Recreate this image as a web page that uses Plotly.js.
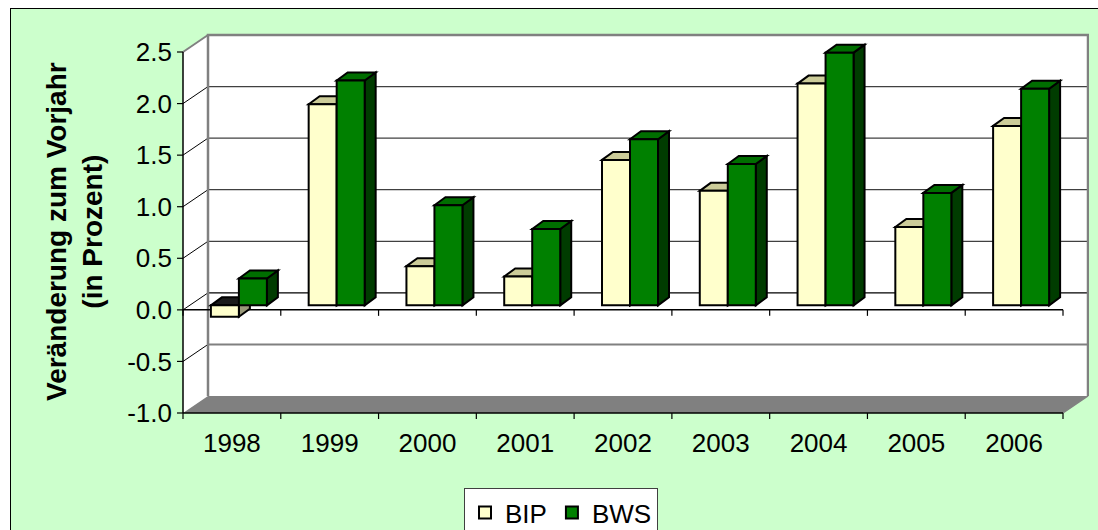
<!DOCTYPE html>
<html>
<head>
<meta charset="utf-8">
<script src="https://cdn.plot.ly/plotly-3.0.1.min.js"></script>
<style>
  html, body { margin: 0; padding: 0; width: 1098px; height: 530px; overflow: hidden; background: #ffffff; }
  #wrap { position: absolute; left: 10px; top: 8px; border-left: 1px solid #000; border-top: 1px solid #000; }
  #chart { width: 1087px; height: 521px; }
</style>
</head>
<body>
<div id="wrap"><div id="chart"></div></div>
<script>
// ---- data ----
const years = ['1998', '1999', '2000', '2001', '2002', '2003', '2004', '2005', '2006'];
const bip = [-0.11, 1.95, 0.38, 0.28, 1.41, 1.11, 2.15, 0.76, 1.74];
const bws = [0.26, 2.18, 0.97, 0.74, 1.61, 1.37, 2.45, 1.09, 2.10];
const yTickVals = [-1, -0.5, 0, 0.5, 1, 1.5, 2, 2.5];
const yTickText = ['-1.0', '-0.5', '0.0', '0.5', '1.0', '1.5', '2.0', '2.5'];
const yTitle = 'Veränderung zum Vorjahr<br>(in Prozent)';

// ---- geometry (page pixels) ----
const W = 1087, H = 521, OX = 11, OY = 9;
const PL = 176, PR = 1089, PT = 33, PB = 420;
const FL = 183, FR = 1063, FT = 52, FB = 413;
const n = years.length;
const yMin = yTickVals[0], yMax = yTickVals[yTickVals.length - 1];
const ux = (FR - FL) / n, uy = (FB - FT) / (yMax - yMin);
const xL = -0.5, xR = n - 0.5;
const xmin = xL - (FL - PL) / ux, xmax = xR + (PR - FR) / ux;
const ymin = yMin - (PB - FB) / uy, ymax = yMax + (FT - PT) / uy;
const BX = 25 / ux, BY = 17 / uy;           // back wall depth
const barOffX = 7 / ux, barOffY = 4.5 / uy; // bar front plane
const barW = 28 / ux;
const bdx = 11 / ux, bdy = 8 / uy;          // bar depth

function path(pts) {
  return 'M' + pts.map(p => p[0] + ',' + p[1]).join('L') + 'Z';
}
function line(x0, y0, x1, y1, color, width) {
  return {type: 'line', xref: 'x', yref: 'y', x0: x0, y0: y0, x1: x1, y1: y1,
          line: {color: color, width: width}, layer: 'below'};
}
function poly(pts, fill, lc, lw) {
  return {type: 'path', xref: 'x', yref: 'y', path: path(pts), fillcolor: fill,
          line: {color: lc || fill, width: lw === undefined ? 0 : lw}, layer: 'below'};
}

const shapes = [];
// walls
shapes.push(poly([[xL, yMin], [xL, yMax], [xL + BX, yMax + BY], [xR + BX, yMax + BY], [xR + BX, yMin + BY], [xR, yMin]], '#ffffff'));
// floor
shapes.push(poly([[xL, yMin], [xR, yMin], [xR + BX, yMin + BY], [xL + BX, yMin + BY]], '#808080'));
// gridlines on back wall + left wall diagonals
yTickVals.forEach(v => {
  if (v === yMin || v === yMax) return;
  const c = v === 0 ? '#000000' : (v < 0 ? '#808080' : '#404040');
  const w = v < 0 ? 2 : 1.2;
  shapes.push(line(xL + BX, v + BY, xR + BX, v + BY, c, w));
  shapes.push(line(xL, v, xL + BX, v + BY, '#000000', 1));
});
// back wall border
shapes.push({type: 'path', xref: 'x', yref: 'y', layer: 'below',
  path: 'M' + (xL + BX) + ',' + (yMin + BY) + 'L' + (xL + BX) + ',' + (yMax + BY) + 'L' + (xR + BX) + ',' + (yMax + BY) + 'L' + (xR + BX) + ',' + (yMin + BY),
  line: {color: '#808080', width: 2.5}});
shapes.push(line(xL, yMax, xL + BX, yMax + BY, '#808080', 2));
shapes.push(line(xR, yMin, xR + BX, yMin + BY, '#808080', 1.5));
// front axes
shapes.push(line(xL, 0, xR, 0, '#000000', 1.5));
shapes.push(line(xL, yMin, xL, yMax, '#000000', 1.5));
shapes.push(line(xL, yMin, xR, yMin, '#000000', 1.5));
for (let i = 0; i <= n; i++) {
  const b = xL + i;
  shapes.push(line(b, 0, b, -6 / uy, '#000000', 1.2));
  shapes.push(line(b, yMin, b, yMin - 6 / uy, '#000000', 1.2));
}
yTickVals.forEach(v => shapes.push(line(xL - 6 / ux, v, xL, v, '#000000', 1.2)));

// 3D faces of bars
const series = [
  {vals: bip, shift: -0.5, front: '#FFFFCC', top: '#CCCC99', topNeg: '#1a1a1a', side: '#99997A'},
  {vals: bws, shift: 0.5, front: '#008000', top: '#006E00', topNeg: '#003300', side: '#003C00'}
];
series.forEach(s => {
  s.vals.forEach((v, i) => {
    const cx = i + barOffX + s.shift * barW;
    const x0 = cx - barW / 2, x1 = cx + barW / 2;
    const b = barOffY;
    const lo = Math.min(b, b + v), hi = Math.max(b, b + v);
    shapes.push(poly([[x1, lo], [x1 + bdx, lo + bdy], [x1 + bdx, hi + bdy], [x1, hi]], s.side, '#000000', 2));
    shapes.push(poly([[x0, hi], [x0 + bdx, hi + bdy], [x1 + bdx, hi + bdy], [x1, hi]], v < 0 ? s.topNeg : s.top, '#000000', 2));
  });
});

const traces = [
  {type: 'bar', name: 'BIP', x: years.map((_, i) => i + barOffX - 0.5 * barW), y: bip,
   base: barOffY, width: barW, marker: {color: '#FFFFCC', line: {color: '#000000', width: 2}}},
  {type: 'bar', name: 'BWS', x: years.map((_, i) => i + barOffX + 0.5 * barW), y: bws,
   base: barOffY, width: barW, marker: {color: '#008000', line: {color: '#000000', width: 2}}}
];

const font = 'Liberation Sans, Arial, sans-serif';
const layout = {
  width: W, height: H,
  margin: {l: PL - OX, r: W - (PR - OX), t: PT - OY, b: H - (PB - OY), autoexpand: false},
  paper_bgcolor: '#CCFFCC', plot_bgcolor: '#CCFFCC',
  barmode: 'overlay', bargap: 0,
  showlegend: true,
  hovermode: false,
  font: {family: font, size: 26, color: '#000000'},
  xaxis: {range: [xmin, xmax], tickvals: years.map((_, i) => i), ticktext: years,
          ticks: '', showgrid: false, zeroline: false, showline: false, automargin: false,
          tickfont: {size: 26}, ticklabelstandoff: 5, fixedrange: true},
  yaxis: {range: [ymin, ymax], tickvals: yTickVals, ticktext: yTickText,
          ticks: '', showgrid: false, zeroline: false, showline: false, automargin: false,
          tickfont: {size: 26}, ticklabelstandoff: 3, fixedrange: true},
  legend: {orientation: 'h', x: (561 - PL) / (PR - PL), y: (PB - 488) / (PB - PT),
           xanchor: 'center', yanchor: 'top', bgcolor: '#ffffff', bordercolor: '#404040',
           borderwidth: 1, font: {size: 26}},
  annotations: [{text: '<b>' + yTitle + '</b>', xref: 'paper', yref: 'paper',
                 x: (74 - PL) / (PR - PL), y: (PB - 232) / (PB - PT),
                 xanchor: 'center', yanchor: 'middle', textangle: -90, showarrow: false,
                 font: {size: 28, family: font, color: '#000000'}}],
  shapes: shapes
};

Plotly.newPlot('chart', traces, layout, {displayModeBar: false, staticPlot: true});
</script>
</body>
</html>
